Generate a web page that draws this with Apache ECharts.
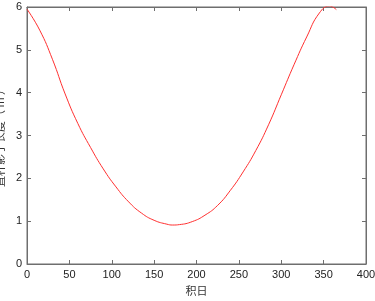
<!DOCTYPE html>
<html>
<head>
<meta charset="utf-8">
<script src="https://cdn.jsdelivr.net/npm/echarts@6/dist/echarts.min.js"></script>
<style>
html,body{margin:0;padding:0;background:#fff;}
#c{width:375px;height:301px;}
</style>
</head>
<body>
<div id="c"></div>
<script>
const days = [0, 15, 30, 45, 60, 75, 90, 105, 120, 135, 150, 165, 172, 180, 195, 210, 225, 240, 255, 270, 285, 300, 315, 330, 345, 357, 365];
const shadow = [5.95, 5.46, 4.78, 3.97, 3.28, 2.72, 2.22, 1.80, 1.45, 1.19, 1.02, 0.93, 0.91, 0.92, 0.99, 1.14, 1.37, 1.72, 2.15, 2.65, 3.25, 3.95, 4.65, 5.30, 5.86, 6.02, 5.94];
const xTicks = [0, 50, 100, 150, 200, 250, 300, 350, 400];
const yTicks = [0, 1, 2, 3, 4, 5, 6];

const chart = echarts.init(document.getElementById('c'));
const axisColor = '#6e6e6e';
const mkLine = () => ({show: true, onZero: false, lineStyle: {color: axisColor, width: 1}});
const mkTick = () => ({show: true, inside: true, length: 4, lineStyle: {color: axisColor}});
const font = 'Liberation Sans, Arial, sans-serif';
chart.setOption({
  animation: false,
  grid: {show: true, borderColor: axisColor, borderWidth: 1, left: 27, right: 9, top: 7, bottom: 37, containLabel: false, outerBoundsMode: 'none'},
  xAxis: [{
    type: 'value', min: xTicks[0], max: xTicks[xTicks.length - 1], interval: 50, position: 'bottom',
    name: '积日', nameLocation: 'middle', nameGap: 20,
    nameTextStyle: {color: '#333', fontSize: 11, fontFamily: 'Noto Sans CJK SC'},
    axisLine: mkLine(), axisTick: mkTick(), splitLine: {show: false},
    axisLabel: {color: '#222', fontSize: 11, margin: 5, fontFamily: font}
  }, {
    type: 'value', min: xTicks[0], max: xTicks[xTicks.length - 1], interval: 50, position: 'top',
    axisLine: mkLine(), axisTick: mkTick(), splitLine: {show: false}, axisLabel: {show: false}
  }],
  yAxis: [{
    type: 'value', min: yTicks[0], max: yTicks[yTicks.length - 1], interval: 1, position: 'left',
    name: '直杆影子长度（ m ）', nameLocation: 'middle', nameGap: 16,
    nameTextStyle: {color: '#333', fontSize: 11, fontFamily: 'Noto Sans CJK SC'},
    axisLine: mkLine(), axisTick: mkTick(), splitLine: {show: false},
    axisLabel: {color: '#222', fontSize: 11, margin: 5, fontFamily: font}
  }, {
    type: 'value', min: yTicks[0], max: yTicks[yTicks.length - 1], interval: 1, position: 'right',
    axisLine: mkLine(), axisTick: mkTick(), splitLine: {show: false}, axisLabel: {show: false}
  }],
  series: [{
    type: 'line', smooth: true, showSymbol: false, xAxisIndex: 0, yAxisIndex: 0,
    lineStyle: {color: '#ff3030', width: 1},
    data: days.map((d, i) => [d, shadow[i]])
  }]
});
</script>
</body>
</html>
